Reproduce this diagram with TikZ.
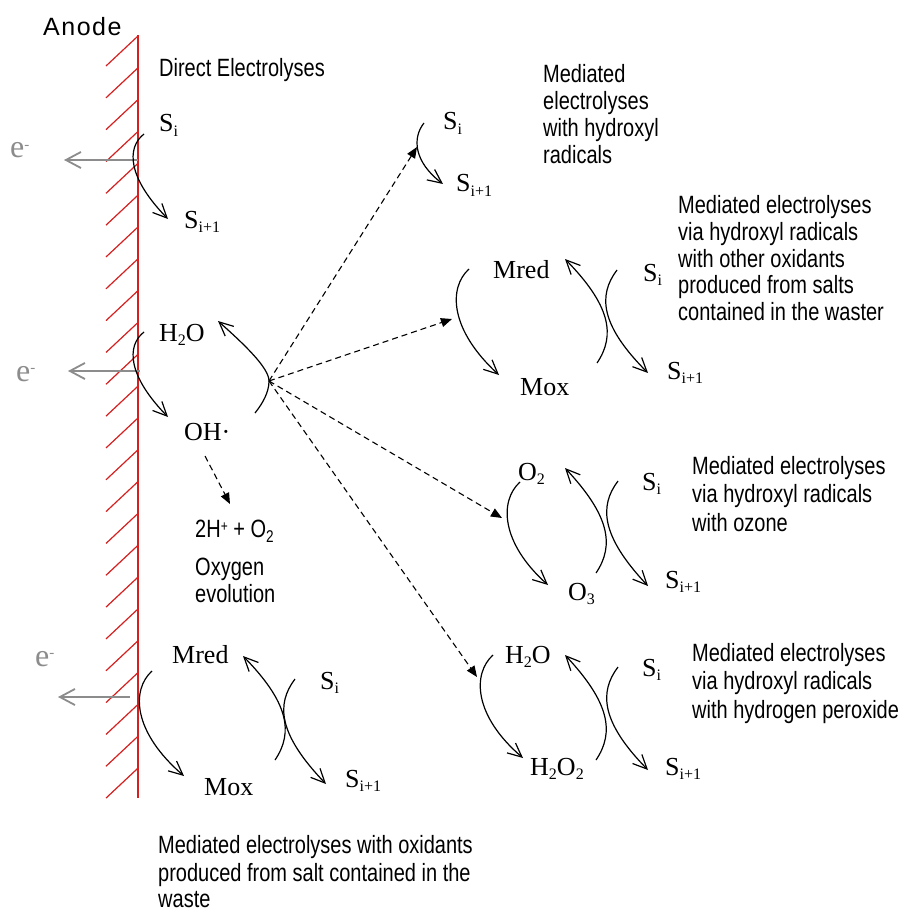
\documentclass[tikz,border=0pt]{standalone}
\usepackage{fontspec}
\setmainfont{Liberation Serif}
\newfontfamily\condsans{Liberation Sans}[FakeStretch=0.8]
\newfontfamily\anodesans{Liberation Sans}[LetterSpace=6]
\usetikzlibrary{arrows.meta}
\definecolor{anodered}{RGB}{214,32,32}
\definecolor{egray}{RGB}{140,140,140}
\newcommand{\lsub}[1]{\raisebox{-4.5pt}{\fontsize{16}{16}\selectfont #1}}
\newcommand{\chemfont}{\fontsize{26}{26}\selectfont}
\newcommand{\descfont}{\condsans\fontsize{25}{27}\selectfont}
\newcommand{\eminus}{e\raisebox{9pt}{\fontsize{15}{15}\selectfont -}}
\tikzset{
  lab/.style={anchor=base west, inner sep=0pt, font=\chemfont},
  txt/.style={anchor=base west, inner sep=0pt, font=\descfont},
  elab/.style={anchor=base west, inner sep=0pt, text=egray, font=\fontsize{32}{32}\selectfont},
  cyc/.style={draw=black, line width=1.2pt, -{Straight Barb[length=14pt,width=13pt]}},
  dasharrow/.style={draw=black, line width=1.1pt, dash pattern=on 6pt off 4pt, -{Triangle[length=11pt,width=9pt]}},
  earrow/.style={draw=egray, line width=1.8pt, -{Straight Barb[length=15pt,width=16pt]}},
  anodeline/.style={draw=anodered, line width=1.8pt},
  hatchline/.style={draw=anodered, line width=1.2pt}
}
\begin{document}
\begin{tikzpicture}[x=1pt,y=-1pt]
\useasboundingbox (0,0) rectangle (899,912);
\fill[white] (0,0) rectangle (899,912);

% ---------- Anode ----------
\node[anchor=base west, inner sep=0pt, font=\anodesans\fontsize{25}{25}\selectfont] (anode) at (43,36) {Anode};
\coordinate (aT) at (138,35);
\coordinate (aB) at (138,798);
\draw[anodeline] (aT) -- (aB);
\foreach \k in {0,...,23}{
  \draw[hatchline] (106,{66+31.83*\k}) -- (138,{36+31.83*\k});
}

% ---------- electrons ----------
\coordinate (e1s) at (138,160); \coordinate (e1t) at (64,160);
\coordinate (e2s) at (140,371); \coordinate (e2t) at (68,371);
\coordinate (e3s) at (130,697); \coordinate (e3t) at (58,697);
\draw[earrow] (e1s) -- (e1t);
\draw[earrow] (e2s) -- (e2t);
\draw[earrow] (e3s) -- (e3t);
\node[elab] (e1) at (10,158) {\eminus};
\node[elab] (e2) at (16,381) {\eminus};
\node[elab] (e3) at (35,666) {\eminus};

% ---------- Direct electrolyses ----------
\node[txt] (direct) at (159,77) {Direct Electrolyses};
\node[lab] (dsi) at (159,132) {S\lsub{i}};
\node[lab] (dsj) at (184,228) {S\lsub{i+1}};
\coordinate (d1a) at (144,134); \coordinate (d1b) at (168,219);
\draw[cyc] (d1a) .. controls (126,148) and (128,178) .. (d1b);

% ---------- water oxidation ----------
\node[lab] (wh2o) at (159,341) {H\lsub{2}O};
\node[lab] (woh) at (184,440) {OH·};
\coordinate (w1a) at (144,332); \coordinate (w1b) at (168,417);
\draw[cyc] (w1a) .. controls (126,346) and (128,376) .. (w1b);
\coordinate (wst) at (255,413);
\coordinate (hub) at (269,381);
\coordinate (wend) at (218,321);
\draw[cyc] (wst) .. controls (263,403) and (269,392) .. (hub) .. controls (269,368) and (245,345) .. (wend);

% oxygen evolution
\coordinate (ox1) at (205,456); \coordinate (ox2) at (230,504);
\draw[dasharrow] (ox1) -- (ox2);
\node[txt] (o2ev) at (195,537) {2H\raisebox{6pt}{\fontsize{15}{15}\selectfont +} + O\raisebox{-5pt}{\fontsize{17}{17}\selectfont 2}};
\node[txt] (oxy) at (195,575) {Oxygen};
\node[txt] (evo) at (195,602) {evolution};

% dashed arrows from hub
\coordinate (dt1) at (417,147);
\coordinate (dt2) at (452,319);
\coordinate (dt3) at (502,518);
\coordinate (dt4) at (477,677);
\draw[dasharrow] (hub) -- (dt1);
\draw[dasharrow] (hub) -- (dt2);
\draw[dasharrow] (hub) -- (dt3);
\draw[dasharrow] (hub) -- (dt4);

% ---------- hydroxyl radicals ----------
\node[lab] (hsi) at (443,130) {S\lsub{i}};
\node[lab] (hsj) at (456,192) {S\lsub{i+1}};
\coordinate (h1a) at (424,123); \coordinate (h1b) at (443,184);
\draw[cyc] (h1a) .. controls (412,138) and (414,162) .. (h1b);
\node[txt] (t1a) at (543,83) {Mediated};
\node[txt] (t1b) at (543,110) {electrolyses};
\node[txt] (t1c) at (543,137) {with hydroxyl};
\node[txt] (t1d) at (543,164) {radicals};

% ---------- other oxidants ----------
\node[lab] (mred2) at (493,278) {Mred};
\node[lab] (mox2) at (520,395) {Mox};
\node[lab] (msi) at (643,281) {S\lsub{i}};
\node[lab] (msj) at (667,379) {S\lsub{i+1}};
\coordinate (m2la) at (469,269); \coordinate (m2lb) at (499,375);
\coordinate (m2aa) at (597,363); \coordinate (m2ab) at (565,259);
\coordinate (m2ba) at (617,270); \coordinate (m2bb) at (648,373);
\draw[cyc] (m2la) .. controls (448,288) and (450,330) .. (m2lb);
\draw[cyc] (m2aa) .. controls (616,335) and (610,305) .. (m2ab);
\draw[cyc] (m2ba) .. controls (598,295) and (600,325) .. (m2bb);
\node[txt] (t2a) at (678,213) {Mediated electrolyses};
\node[txt] (t2b) at (678,240) {via hydroxyl radicals};
\node[txt] (t2c) at (678,267) {with other oxidants};
\node[txt] (t2d) at (678,293) {produced from salts};
\node[txt] (t2e) at (678,320) {contained in the waster};

% ---------- ozone ----------
\node[lab] (oo2) at (518,480) {O\lsub{2}};
\node[lab] (oo3) at (568,600) {O\lsub{3}};
\node[lab] (osi) at (642,490) {S\lsub{i}};
\node[lab] (osj) at (665,588) {S\lsub{i+1}};
\coordinate (ola) at (520,482); \coordinate (olb) at (548,585);
\coordinate (oaa) at (596,573); \coordinate (oab) at (565,468);
\coordinate (oba) at (618,481); \coordinate (obb) at (648,586);
\draw[cyc] (ola) .. controls (499,501) and (501,543) .. (olb);
\draw[cyc] (oaa) .. controls (615,545) and (609,515) .. (oab);
\draw[cyc] (oba) .. controls (599,506) and (601,536) .. (obb);
\node[txt] (t3a) at (692,474) {Mediated electrolyses};
\node[txt] (t3b) at (692,502) {via hydroxyl radicals};
\node[txt] (t3c) at (692,531) {with ozone};

% ---------- hydrogen peroxide ----------
\node[lab] (ph2o) at (505,663) {H\lsub{2}O};
\node[lab] (ph2o2) at (530,775) {H\lsub{2}O\lsub{2}};
\node[lab] (psi) at (642,676) {S\lsub{i}};
\node[lab] (psj) at (665,775) {S\lsub{i+1}};
\coordinate (pla) at (493,655); \coordinate (plb) at (523,758);
\coordinate (paa) at (596,760); \coordinate (pab) at (565,655);
\coordinate (pba) at (618,667); \coordinate (pbb) at (648,770);
\draw[cyc] (pla) .. controls (472,674) and (474,716) .. (plb);
\draw[cyc] (paa) .. controls (615,732) and (609,702) .. (pab);
\draw[cyc] (pba) .. controls (599,692) and (601,722) .. (pbb);
\node[txt] (t4a) at (692,661) {Mediated electrolyses};
\node[txt] (t4b) at (692,689) {via hydroxyl radicals};
\node[txt] (t4c) at (692,718) {with hydrogen peroxide};

% ---------- salt mediated (bottom left) ----------
\node[lab] (bred) at (172,663) {Mred};
\node[lab] (box) at (204,795) {Mox};
\node[lab] (bsi) at (320,689) {S\lsub{i}};
\node[lab] (bsj) at (345,787) {S\lsub{i+1}};
\coordinate (bla) at (152,671); \coordinate (blb) at (184,776);
\coordinate (baa) at (275,760); \coordinate (bab) at (243,656);
\coordinate (bba) at (295,679); \coordinate (bbb) at (326,784);
\draw[cyc] (bla) .. controls (131,690) and (133,732) .. (blb);
\draw[cyc] (baa) .. controls (294,732) and (288,702) .. (bab);
\draw[cyc] (bba) .. controls (276,704) and (278,734) .. (bbb);
\node[txt] (t5a) at (158,853) {Mediated electrolyses with oxidants};
\node[txt] (t5b) at (158,881) {produced from salt contained in the};
\node[txt] (t5c) at (158,907) {waste};
\end{tikzpicture}
\end{document}
